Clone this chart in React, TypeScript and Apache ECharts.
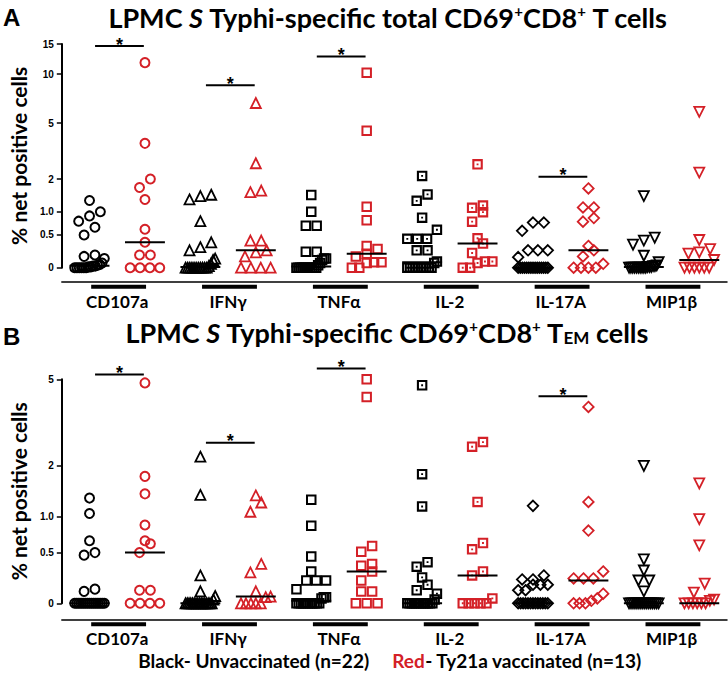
import React, { useEffect, useRef } from "react";
import * as echarts from "echarts";

// ---------------- data ----------------
const cytokines = ["CD107a", "IFNγ", "TNFα", "IL-2", "IL-17A", "MIP1β"];

const tickValuesA = [0, 0.5, 1, 2, 5, 10, 15];
const tickLabelsA = ["0", "0.5", "1.0", "2", "5", "10", "15"];
const tickValuesB = [0, 0.5, 1, 2, 5];
const tickLabelsB = ["0", "0.5", "1.0", "2", "5"];

// Panel A: total CD69+CD8+ T cells (% net positive)
const totalUnvaccinated = [
  [1.3, 1.0, 0.9, 0.78, 0.65, 0.5, 0.17, 0.15, 0.12, 0.06, 0.04, 0.03, 0.02, 0.02, 0.01, 0.01, 0, 0, 0, 0, 0, 0],
  [1.47, 1.43, 1.33, 0.78, 0.37, 0.29, 0.24, 0.12, 0.1, 0.05, 0.02, 0, 0, 0, 0, 0, 0, 0, 0, 0, 0, 0],
  [1.46, 1.0, 0.68, 0.68, 0.22, 0.22, 0.12, 0.12, 0.1, 0.06, 0.03, 0, 0, 0, 0, 0, 0, 0, 0, 0, 0, 0],
  [2.12, 1.48, 1.29, 0.86, 0.6, 0.43, 0.43, 0.43, 0.24, 0.24, 0.08, 0.06, 0, 0, 0, 0, 0, 0, 0, 0, 0, 0],
  [0.75, 0.75, 0.58, 0.24, 0.24, 0.24, 0.14, 0, 0, 0, 0, 0, 0, 0, 0, 0, 0, 0, 0, 0, 0, 0],
  [1.43, 0.45, 0.4, 0.33, 0.16, 0.07, 0.03, 0.02, 0.02, 0.01, 0.01, 0.01, 0, 0, 0, 0, 0, 0, 0, 0, 0, 0],
];
const totalVaccinated = [
  [11.7, 3.67, 2.0, 1.7, 1.33, 0.61, 0.37, 0.17, 0.17, 0, 0, 0, 0],
  [6.7, 2.65, 1.6, 1.55, 0.4, 0.4, 0.24, 0.21, 0.15, 0, 0, 0, 0],
  [10.2, 4.46, 1.13, 0.8, 0.31, 0.26, 0.19, 0.15, 0.07, 0.07, 0.06, 0, 0],
  [2.6, 1.16, 1.1, 0.99, 0.77, 0.44, 0.35, 0.2, 0.08, 0.08, 0.06, 0, 0],
  [1.67, 1.11, 1.11, 0.85, 0.77, 0.31, 0.24, 0.15, 0.05, 0, 0, 0, 0],
  [5.9, 2.25, 0.41, 0.26, 0.21, 0.19, 0.1, 0, 0, 0, 0, 0, 0],
];
const totalMedianUnvaccinated = [0.025, 0.01, 0.015, 0.07, 0, 0.01];
const totalMedianVaccinated = [0.37, 0.24, 0.19, 0.35, 0.24, 0.1];
const totalSigGroups = [0, 1, 2, 4];
const totalSigLevels = [14.6, 8.6, 12.7, 2.09];

// Panel B: CD69+CD8+ TEM cells (% net positive)
const temUnvaccinated = [
  [1.32, 1.05, 0.65, 0.5, 0.47, 0.12, 0.1, 0, 0, 0, 0, 0, 0, 0, 0, 0, 0, 0, 0, 0, 0, 0],
  [2.23, 1.38, 0.25, 0.1, 0.06, 0.03, 0, 0, 0, 0, 0, 0, 0, 0, 0, 0, 0, 0, 0, 0, 0, 0],
  [1.29, 0.86, 0.455, 0.29, 0.2, 0.2, 0.2, 0.12, 0.05, 0.05, 0.04, 0, 0, 0, 0, 0, 0, 0, 0, 0, 0, 0],
  [4.72, 1.81, 1.17, 0.39, 0.34, 0.23, 0.16, 0.11, 0.08, 0.03, 0, 0, 0, 0, 0, 0, 0, 0, 0, 0, 0, 0],
  [1.18, 0.25, 0.21, 0.21, 0.16, 0.16, 0.16, 0.11, 0.11, 0, 0, 0, 0, 0, 0, 0, 0, 0, 0, 0, 0, 0],
  [2.0, 0.42, 0.3, 0.2, 0.2, 0.1, 0, 0, 0, 0, 0, 0, 0, 0, 0, 0, 0, 0, 0, 0, 0, 0],
];
const temVaccinated = [
  [4.83, 1.76, 1.4, 0.87, 0.65, 0.61, 0.5, 0.11, 0.11, 0, 0, 0, 0],
  [1.37, 1.24, 1.08, 0.37, 0.28, 0.1, 0.055, 0.05, 0, 0, 0, 0, 0],
  [5.0, 4.21, 0.58, 0.51, 0.37, 0.35, 0.29, 0.2, 0.1, 0.1, 0, 0, 0],
  [2.63, 2.5, 1.25, 0.62, 0.54, 0.29, 0.25, 0.04, 0, 0, 0, 0, 0],
  [3.81, 1.25, 0.79, 0.29, 0.22, 0.22, 0.22, 0.08, 0.04, 0.02, 0, 0, 0],
  [1.61, 0.96, 0.59, 0.17, 0.09, 0.03, 0.02, 0, 0, 0, 0, 0, 0],
];
const temMedianUnvaccinated = [0, 0, 0.02, 0, 0, 0];
const temMedianVaccinated = [0.5, 0.055, 0.29, 0.25, 0.2, 0];
const temSigGroups = [0, 1, 2, 4];
const temSigLevels = [5.23, 2.61, 5.54, 4.24];

// ---------------- layout / style ----------------
const RED = "#d42027";
const BLACK = "#000000";
const GRID_LEFT = 53;
const GRID_RIGHT = 1;
const PLOT_W = 728 - GRID_LEFT - GRID_RIGHT;
const PX_PER_X = PLOT_W / 12;
const A_TOP = 44;
const A_H = 223.7;
const B_TOP = 379.3;
const B_H = 224;

const tf = (v: number) => Math.log10(v + 1);

const IL2_PATH = "path://M0,0H10V10H0Z M2,2V8H8V2Z M4.1,4.1H5.9V5.9H4.1Z";
const symbolDefs = [
  { symbol: "circle", size: 9, rotate: 0, bw: 2, solid: false },
  { symbol: "triangle", size: 10, rotate: 0, bw: 1.8, solid: false },
  { symbol: "rect", size: 8.5, rotate: 0, bw: 2, solid: false },
  { symbol: IL2_PATH, size: 10.5, rotate: 0, bw: 0, solid: true },
  { symbol: "diamond", size: 10.5, rotate: 0, bw: 1.8, solid: false },
  { symbol: "triangle", size: 10, rotate: 180, bw: 1.8, solid: false },
];

const ROW_GAP = 10;
const STEP = 11;
const SPAN = 30;

function swarm(values: number[], center: number, pxPerLog: number) {
  const pts = values.map((v) => ({ v, py: tf(v) * pxPerLog })).sort((a, b) => a.py - b.py);
  const rows: { v: number; py: number }[][] = [];
  for (const p of pts) {
    const row = rows[rows.length - 1];
    if (!row || p.py - row[0].py > ROW_GAP) rows.push([p]);
    else row.push(p);
  }
  const out: number[][] = [];
  for (const row of rows) {
    const n = row.length;
    const step = n > 1 ? Math.min(STEP, SPAN / (n - 1)) : 0;
    row.forEach((p, k) => {
      out.push([center + ((k - (n - 1) / 2) * step) / PX_PER_X, tf(p.v)]);
    });
  }
  return out;
}

function buildPanel(
  idx: number,
  unvac: number[][],
  vac: number[][],
  medUnvac: number[],
  medVac: number[],
  sigGroups: number[],
  sigLevels: number[],
  pxPerLog: number,
  barOffset: number
) {
  const series: any[] = [];
  cytokines.forEach((name, g) => {
    [unvac[g], vac[g]].forEach((vals, c) => {
      const def = symbolDefs[g];
      const col = c === 0 ? BLACK : RED;
      series.push({
        type: "scatter",
        name: `${name}-${c}-${idx}`,
        xAxisIndex: idx,
        yAxisIndex: idx,
        symbol: def.symbol,
        symbolSize: def.size,
        symbolRotate: def.rotate,
        clip: false,
        z: 2,
        itemStyle: def.solid
          ? { color: col, borderWidth: 0, opacity: 1 }
          : { color: "rgba(0,0,0,0)", borderColor: col, borderWidth: def.bw, opacity: 1 },
        emphasis: { disabled: true },
        data: swarm(vals, 2 * g + c, pxPerLog),
      });
    });
  });
  const ann: number[][] = [];
  cytokines.forEach((_, g) => {
    ann.push([0, 2 * g - 0.36, 2 * g + 0.36, tf(medUnvac[g])]);
    ann.push([0, 2 * g + 1 - 0.36, 2 * g + 1 + 0.36, tf(medVac[g])]);
    ann.push([2, 2 * g + 0.03, 2 * g + 1.02, 0]);
  });
  sigGroups.forEach((g, i) => {
    ann.push([1, 2 * g + 0.1, 2 * g + 0.98, tf(sigLevels[i])]);
  });
  series.push({
    type: "custom",
    xAxisIndex: idx,
    yAxisIndex: idx,
    z: 5,
    clip: false,
    silent: true,
    data: ann,
    renderItem: (params: any, api: any) => {
      const kind = api.value(0);
      const p1 = api.coord([api.value(1), api.value(3)]);
      const p2 = api.coord([api.value(2), api.value(3)]);
      if (kind === 0) {
        return {
          type: "line",
          shape: { x1: p1[0], y1: p1[1], x2: p2[0], y2: p2[1] },
          style: { stroke: "#000", lineWidth: 2 },
        };
      }
      if (kind === 2) {
        const yb = p1[1] + barOffset;
        return {
          type: "line",
          shape: { x1: p1[0], y1: yb, x2: p2[0], y2: yb },
          style: { stroke: "#000", lineWidth: 4 },
        };
      }
      return {
        type: "group",
        children: [
          {
            type: "line",
            shape: { x1: p1[0], y1: p1[1], x2: p2[0], y2: p2[1] },
            style: { stroke: "#000", lineWidth: 2 },
          },
          {
            type: "text",
            style: {
              text: "*",
              x: (p1[0] + p2[0]) / 2,
              y: p1[1] - 1.5,
              align: "center",
              verticalAlign: "middle",
              lineHeight: 10,
              font: 'bold 18px "Liberation Sans", Arial, sans-serif',
              fill: "#000",
            },
          },
        ],
      };
    },
  });
  return series;
}

function yAxisDef(idx: number, ticks: number[], labels: string[], max: number) {
  const tv = ticks.map(tf);
  return {
    type: "value",
    gridIndex: idx,
    min: 0,
    max: tf(max),
    splitLine: { show: false },
    axisLine: { show: true, onZero: false, lineStyle: { color: "#000", width: 2 } },
    axisTick: { show: true, customValues: tv, length: 5, lineStyle: { color: "#000", width: 1.5 } },
    axisLabel: {
      customValues: tv,
      margin: 8,
      color: "#000",
      fontFamily: '"Liberation Sans", Arial, sans-serif',
      fontWeight: "bold",
      fontSize: 10,
      formatter: (val: number) => {
        const i = tv.findIndex((t) => Math.abs(t - val) < 1e-6);
        return i >= 0 ? labels[i] : "";
      },
    },
    name: "% net positive cells",
    nameLocation: "middle",
    nameGap: 19,
    nameTextStyle: { fontFamily: "Lato", fontWeight: "bold", fontSize: 21, color: "#000" },
  };
}

function xAxisDef(idx: number, offset: number) {
  const cv = cytokines.map((_, g) => 2 * g + 0.5);
  return {
    type: "value",
    gridIndex: idx,
    min: -0.5,
    max: 11.5,
    offset,
    splitLine: { show: false },
    axisLine: { show: true, onZero: false, lineStyle: { color: "#000", width: 1.5 } },
    axisTick: { show: false },
    axisLabel: {
      customValues: cv,
      margin: 11,
      color: "#000",
      fontFamily: "Lato",
      fontWeight: "bold",
      fontSize: 17,
      formatter: (val: number) => {
        const i = cv.findIndex((t) => Math.abs(t - val) < 1e-6);
        return i >= 0 ? cytokines[i] : "";
      },
    },
  };
}

const titleRich = {
  b: { fontFamily: "Lato", fontWeight: "bold", fontSize: 27, lineHeight: 28 },
  i: { fontFamily: "Lato", fontWeight: "bold", fontStyle: "italic", fontSize: 27, lineHeight: 28 },
  sup: { fontFamily: "Lato", fontWeight: "bold", fontSize: 15, lineHeight: 18, verticalAlign: "top" },
  sub: { fontFamily: "Lato", fontWeight: "bold", fontSize: 17, lineHeight: 7, verticalAlign: "bottom" },
};

export default function App() {
  const ref = useRef<HTMLDivElement>(null);
  useEffect(() => {
    if (!ref.current) return;
    const chart = echarts.init(ref.current, null, { renderer: "svg" });
    const pxA = A_H / tf(15);
    const pxB = B_H / tf(5);
    const option: any = {
      animation: false,
      backgroundColor: "#fff",
      grid: [
        { left: GRID_LEFT, right: GRID_RIGHT, top: A_TOP, height: A_H },
        { left: GRID_LEFT, right: GRID_RIGHT, top: B_TOP, height: B_H },
      ],
      xAxis: [xAxisDef(0, 14), xAxisDef(1, 16)],
      yAxis: [yAxisDef(0, tickValuesA, tickLabelsA, 15), yAxisDef(1, tickValuesB, tickLabelsB, 5)],
      series: [
        ...buildPanel(0, totalUnvaccinated, totalVaccinated, totalMedianUnvaccinated, totalMedianVaccinated, totalSigGroups, totalSigLevels, pxA, 19),
        ...buildPanel(1, temUnvaccinated, temVaccinated, temMedianUnvaccinated, temMedianVaccinated, temSigGroups, temSigLevels, pxB, 21),
      ],
      graphic: [
        {
          type: "text",
          x: 3,
          y: 5,
          style: { text: "A", font: 'bold 24px "Liberation Sans", Arial, sans-serif', fill: "#000" },
        },
        {
          type: "text",
          x: 3,
          y: 324,
          style: { text: "B", font: 'bold 24px "Liberation Sans", Arial, sans-serif', fill: "#000" },
        },
        {
          type: "text",
          x: 388,
          y: 3,
          style: {
            text: "{b|LPMC }{i|S}{b| Typhi-specific total CD69}{sup|+}{b|CD8}{sup|+}{b| T cells}",
            rich: titleRich,
            align: "center",
            verticalAlign: "top",
            fill: "#000",
          },
        },
        {
          type: "text",
          x: 387,
          y: 318,
          style: {
            text: "{b|LPMC }{i|S}{b| Typhi-specific CD69}{sup|+}{b|CD8}{sup|+}{b| T}{sub|EM}{b| cells}",
            rich: titleRich,
            align: "center",
            verticalAlign: "top",
            fill: "#000",
          },
        },
        {
          type: "text",
          x: 390,
          y: 651,
          style: {
            text: "{k|Black- Unvaccinated (n=22)}{k|     }{r|Red}{k|- Ty21a vaccinated (n=13)}",
            rich: {
              k: { fontFamily: "Lato", fontWeight: "bold", fontSize: 19, fill: "#000" },
              r: { fontFamily: "Lato", fontWeight: "bold", fontSize: 19, fill: RED },
            },
            align: "center",
            verticalAlign: "top",
            fill: "#000",
          },
        },
      ],
    };
    chart.setOption(option);
    return () => chart.dispose();
  }, []);
  return (
    <div
      ref={ref}
      style={{ position: "fixed", left: 0, top: 0, width: 728, height: 675, background: "#fff" }}
    />
  );
}
